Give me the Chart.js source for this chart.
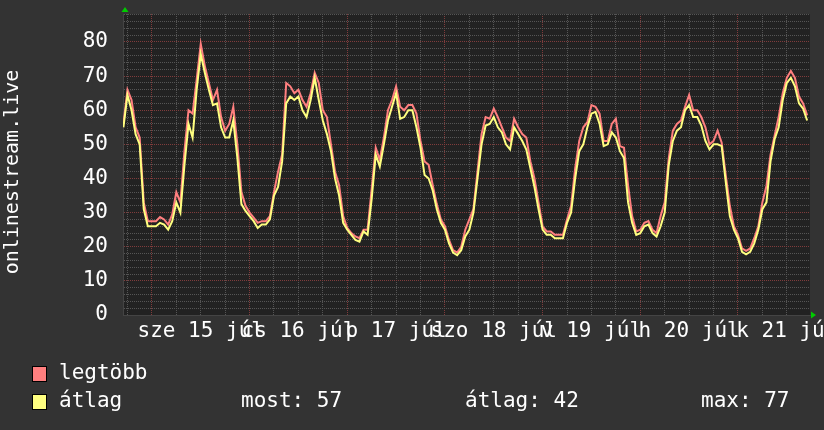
<!DOCTYPE html>
<html><head><meta charset="utf-8">
<script src="https://cdn.jsdelivr.net/npm/chart.js@4"></script>
<style>html,body{margin:0;padding:0;background:#333333;}canvas{display:block}</style>
</head><body>
<canvas id="c" width="824" height="430"></canvas>
<script>
// time axis: hours relative to midnight of 15 júl
const START_HOUR = -7;
const STEP_HOURS = 1;
const X_MIN = -7.1, X_MAX = 161.7;
const Y_MIN = 0, Y_MAX = 88.2;

const dayLabels = ['sze 15 júl', 'cs 16 júl', 'p 17 júl', 'szo 18 júl', 'v 19 júl', 'h 20 júl', 'k 21 júl'];
const dayNoonHours = [12, 36, 60, 84, 108, 132, 156];
const yTickLabels = [0, 10, 20, 30, 40, 50, 60, 70, 80];

const seriesNames = ['legtöbb', 'átlag'];
const legendStats = ['most: 57', 'átlag: 42', 'max: 77'];
const axisTitle = 'onlinestream.live';

// "legtöbb" (max) series
const maxVals = [
  56, 66, 63, 55, 52, 33, 27.5, 27.5, 27.5, 28.7, 28, 26.5, 29.5, 36, 33, 48, 60, 59, 69, 79.5, 73, 68, 63, 66, 58, 54, 56, 61, 50,
  36, 32, 30, 28.5, 27, 27.5, 27.5, 29, 36, 42, 47, 68, 67, 65, 66, 63, 61, 65, 71, 68, 60, 58, 50, 42, 38, 29, 25.5, 24,
  23, 22.5, 25, 25, 37, 49, 45.5, 52, 60, 63, 67, 61, 60, 61.5, 61.5, 59, 51, 45, 44, 38, 32.5, 28, 26, 22, 19, 18.3, 20, 25,
  28, 31, 42, 53, 58, 57.5, 60.5, 58, 55, 52, 51, 57.5, 55, 53, 52, 45, 40, 33, 26, 24.5, 24.5, 23.5, 23.5, 23.5, 28, 32, 43, 51,
  55, 56.5, 61.5, 61, 59, 51, 51, 56, 57.5, 49.5, 49, 38, 29, 24.5, 25, 27, 27.5, 25, 24, 29, 33, 46, 54, 56, 57, 61, 64.5, 60, 60,
  58, 55, 50, 51, 54, 50.5, 41, 32, 26, 23.5, 19.5, 18.8, 19.5, 22.5, 26, 33, 37.8, 47, 52.5, 58, 65, 69.5, 71.5, 69.5, 64, 62, 58.5
];
// "átlag" (average) series
const avgVals = [
  55, 64.5, 60, 53, 50, 31, 26, 26, 26, 27, 26.5, 25, 27.5, 33, 30, 44, 56, 52, 66, 76.5, 71, 66, 61.5, 62, 55, 52, 52, 57, 46,
  32.5, 30.5, 29, 27.5, 25.5, 26.5, 26.5, 28, 35, 37.5, 45, 62, 64, 63, 64, 60, 58, 63, 69.5, 63, 57, 53, 48, 40, 35, 27, 25, 23.5,
  22, 21.5, 24.5, 23.5, 34, 47, 43.5, 50, 57, 61, 65, 57.5, 58, 60, 60, 55, 49, 41, 40, 36.5, 31, 27, 25, 21, 18.3, 17.5, 19, 23,
  25, 30, 40, 50, 55.5, 56, 58, 55, 53.5, 50, 48.5, 55, 53, 51, 48.5, 43, 37.5, 31, 25, 23.5, 23.5, 22.5, 22.5, 22.5, 27, 30, 40, 48,
  50, 55, 59, 59.5, 56, 49.5, 50, 53.5, 52, 48, 46, 33, 27, 23.5, 24, 26, 26.5, 24, 23, 26, 30, 44, 51, 54, 55, 60, 61.5, 58, 58,
  55.5, 51, 48.5, 50, 50, 49.5, 39, 29, 25, 22.5, 18.5, 17.8, 18.5, 21, 25, 31, 33, 45, 51.5, 55, 63, 68, 69.5, 67, 62, 60.5, 57
];

const COL_MAX = '#ff7f7f';
const COL_AVG = '#ffff80';
const FONT = 'DejaVu Sans Mono';
const GRID_MINOR = '#555555';
const GRID_MAJOR = '#803c3c';

const toPoints = arr => arr.map((v, i) => ({x: START_HOUR + i * STEP_HOURS, y: v}));

const decor = {
  id: 'decor',
  beforeDraw(chart) {
    const {ctx, chartArea: a} = chart;
    ctx.save();
    ctx.fillStyle = '#333333';
    ctx.fillRect(0, 0, chart.width, chart.height);
    ctx.fillStyle = '#222222';
    ctx.fillRect(a.left, a.top, a.right - a.left, a.bottom - a.top);
    ctx.restore();
  },
  afterDraw(chart) {
    const {ctx, chartArea: a} = chart;
    ctx.save();
    // arrows
    ctx.fillStyle = '#00cc00';
    ctx.beginPath();
    ctx.moveTo(a.left + 2 - 3.5, a.top - 2);
    ctx.lineTo(a.left + 2 + 3.5, a.top - 2);
    ctx.lineTo(a.left + 2, a.top - 7);
    ctx.closePath(); ctx.fill();
    ctx.beginPath();
    ctx.moveTo(a.right + 1, a.bottom - 3.5);
    ctx.lineTo(a.right + 1, a.bottom + 3.5);
    ctx.lineTo(a.right + 6, a.bottom);
    ctx.closePath(); ctx.fill();
    // axis title
    ctx.fillStyle = '#ffffff';
    ctx.font = '20px "' + FONT + '"';
    ctx.textAlign = 'center';
    ctx.textBaseline = 'middle';
    ctx.translate(13, 172);
    ctx.rotate(-Math.PI / 2);
    ctx.fillText(axisTitle, 0, 0);
    ctx.setTransform(1, 0, 0, 1, 0, 0);
    // legend
    ctx.font = '21px "' + FONT + '"';
    ctx.textAlign = 'left';
    const rows = [[COL_MAX, seriesNames[0], 374], [COL_AVG, seriesNames[1], 402]];
    rows.forEach(([c, name, y]) => {
      ctx.fillStyle = c;
      ctx.fillRect(32, y - 8, 15, 16);
      ctx.strokeStyle = '#000';
      ctx.lineWidth = 1;
      ctx.strokeRect(32.5, y - 7.5, 14, 15);
      ctx.fillStyle = '#ffffff';
      ctx.fillText(name, 59, y);
    });
    ctx.fillText(legendStats[0], 241, 402);
    ctx.fillText(legendStats[1], 465, 402);
    ctx.fillText(legendStats[2], 701, 402);
    ctx.restore();
  }
};

new Chart(document.getElementById('c'), {
  type: 'line',
  data: {
    datasets: [
      {label: seriesNames[1], data: toPoints(avgVals), borderColor: COL_AVG, borderWidth: 2, pointRadius: 0, tension: 0, fill: false, order: 0},
      {label: seriesNames[0], data: toPoints(maxVals), borderColor: COL_MAX, borderWidth: 2, pointRadius: 0, tension: 0, fill: false, order: 1}
    ]
  },
  options: {
    responsive: false,
    animation: false,
    events: [],
    layout: {padding: {left: 0, top: 14, right: 14, bottom: 75}},
    plugins: {legend: {display: false}, tooltip: {enabled: false}},
    scales: {
      x: {
        type: 'linear', min: X_MIN, max: X_MAX,
        afterBuildTicks: s => {
          const t = [];
          for (let h = -6; h <= 156; h += 6) t.push({value: h});
          t.push({value: X_MAX});
          s.ticks = t;
        },
        afterFit: s => { s.height = 40; s.paddingLeft = 0; s.paddingRight = 0; },
        ticks: {
          autoSkip: false, maxRotation: 0, minRotation: 0, padding: 4,
          color: '#ffffff', font: {family: FONT, size: 21},
          callback: v => {
            if (v === X_MAX) return null;
            const i = dayNoonHours.indexOf(v);
            return i >= 0 ? dayLabels[i] : '';
          }
        },
        grid: {
          drawTicks: false, lineWidth: 1,
          color: c => (c.tick && c.tick.value % 24 === 0) ? GRID_MAJOR : GRID_MINOR
        },
        border: {display: true, color: '#444444', dash: [1, 1]}
      },
      y: {
        type: 'linear', min: Y_MIN, max: Y_MAX,
        afterBuildTicks: s => {
          const t = [];
          for (let v = 0; v <= 88; v += 2) t.push({value: v});
          t.push({value: Y_MAX});
          s.ticks = t;
        },
        afterFit: s => { s.width = 123; s.paddingTop = 0; s.paddingBottom = 0; },
        ticks: {
          autoSkip: false, padding: 13, color: '#ffffff', font: {family: FONT, size: 21},
          callback: v => {
            if (v === Y_MAX) return null;
            return yTickLabels.includes(v) ? String(v) : '';
          }
        },
        grid: {
          drawTicks: true, tickLength: 2, tickColor: 'transparent', lineWidth: 1,
          color: c => (c.tick && c.tick.value % 10 === 0 && c.tick.value !== 0) ? GRID_MAJOR : GRID_MINOR
        },
        border: {display: true, color: '#444444', dash: [1, 1]}
      }
    }
  },
  plugins: [decor]
});
</script>
</body></html>
